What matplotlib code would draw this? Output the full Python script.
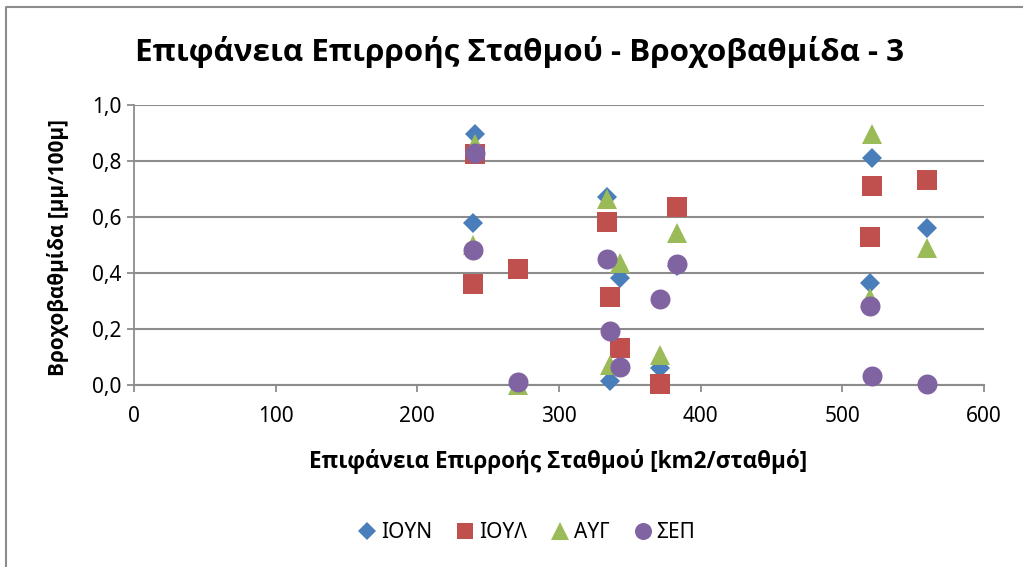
import matplotlib
matplotlib.use("Agg")
import matplotlib.pyplot as plt
from matplotlib.lines import Line2D

# Station catchment area (km2/station)
area_jun = [241, 239, 271, 334, 336, 343, 371, 383, 521, 519.5, 560]
area_jul = [241, 239, 271, 334, 336, 343, 371, 383, 521, 519.5, 560]
area_aug = [241, 239, 271, 334, 336, 343, 371, 383, 521, 519.5, 560]
area_sep = [241, 239, 271, 334, 336, 343, 371, 383, 521, 519.5, 560]

# Rain gradient [mm/100m] per month
grad_jun = [0.895, 0.58, 0.0, 0.672, 0.015, 0.381, 0.06, 0.425, 0.812, 0.363, 0.562]
grad_jul = [0.825, 0.36, 0.413, 0.583, 0.315, 0.131, 0.002, 0.637, 0.712, 0.53, 0.732]
grad_aug = [0.86, 0.50, 0.0, 0.665, 0.071, 0.435, 0.107, 0.542, 0.896, 0.31, 0.488]
grad_sep = [0.83, 0.482, 0.012, 0.449, 0.193, 0.065, 0.306, 0.431, 0.033, 0.283, 0.002]

series_names = ["ΙΟΥΝ", "ΙΟΥΛ", "ΑΥΓ", "ΣΕΠ"]
x_ticks = [0, 100, 200, 300, 400, 500, 600]
y_ticks = [0.0, 0.2, 0.4, 0.6, 0.8, 1.0]

title_text = "Επιφάνεια Επιρροής Σταθμού - Βροχοβαθμίδα - 3"
xlabel_text = "Επιφάνεια Επιρροής Σταθμού [km2/σταθμό]"
ylabel_text = "Βροχοβαθμίδα [μμ/100μ]"

plt.rcParams["font.family"] = ["Noto Sans", "DejaVu Sans"]
BOLD_FAMILY = ["Open Sans", "DejaVu Sans"]

W, H = 1023, 567
DPI = 100
fig = plt.figure(figsize=(W / DPI, H / DPI), dpi=DPI)
fig.patch.set_facecolor("white")

# plot area in pixels
px_left, px_right, px_top, px_bottom = 134, 984, 105, 385
ax = fig.add_axes([px_left / W, 1 - px_bottom / H,
                   (px_right - px_left) / W, (px_bottom - px_top) / H])

colors = ["#4A7EBB", "#C0504D", "#9BBB59", "#8064A2"]
markers = ["D", "s", "^", "o"]
msizes = [10.2, 14.0, 15.0, 14.4]
xs = [area_jun, area_jul, area_aug, area_sep]
ys = [grad_jun, grad_jul, grad_aug, grad_sep]

for x, y, c, m, s, name in zip(xs, ys, colors, markers, msizes, series_names):
    ax.plot(x, y, linestyle="none", marker=m, markersize=s, color=c,
            markeredgewidth=0, label=name, clip_on=False, zorder=3)

ax.set_xlim(0, 600)
ax.set_ylim(0, 1.0)
ax.set_xticks(x_ticks)
ax.set_yticks(y_ticks)
ax.set_yticklabels([f"{v:.1f}".replace(".", ",") for v in y_ticks])
ax.set_xticklabels([str(v) for v in x_ticks])

grid_color = "#8C8C8C"
ax.grid(axis="y", color=grid_color, linewidth=1.5, zorder=0)
ax.set_axisbelow(True)
for side in ["top", "right"]:
    ax.spines[side].set_visible(False)
ax.spines["left"].set_color(grid_color)
ax.spines["left"].set_linewidth(1.3)
ax.spines["bottom"].set_color(grid_color)
ax.spines["bottom"].set_linewidth(1.5)
ax.tick_params(axis="both", direction="out", length=5, width=1.3,
               color=grid_color, labelsize=15, labelcolor="#000000")
ax.tick_params(axis="y", pad=4)
ax.tick_params(axis="x", pad=10)

# Texts, sized to fixed pixel widths
renderer = fig.canvas.get_renderer()


def fit_text(t, target_px, start_size):
    t.set_fontsize(start_size)
    w = t.get_window_extent(renderer).width
    t.set_fontsize(start_size * target_px / w)


title = fig.text(519.5 / W, 1 - 52 / H, title_text, ha="center", va="center",
                 fontweight="bold", family=BOLD_FAMILY, color="#000000")
fit_text(title, 771, 20)

xl = fig.text(558 / W, 1 - 461 / H, xlabel_text, ha="center", va="center",
              fontweight="bold", family=BOLD_FAMILY)
fit_text(xl, 500, 14)

yl = fig.text(58 / W, 1 - 248 / H, ylabel_text, ha="center", va="center",
              fontweight="bold", family=BOLD_FAMILY, rotation=90)
t_tmp = fig.text(0, 0, ylabel_text, fontweight="bold", family=BOLD_FAMILY)
t_tmp.set_fontsize(14)
wy = t_tmp.get_window_extent(renderer).width
t_tmp.remove()
yl.set_fontsize(14 * 258 / wy)

handles = [Line2D([], [], linestyle="none", marker=m, color=c, markeredgewidth=0,
                  markersize=s * 0.85)
           for c, m, s in zip(colors, markers, msizes)]
fig.legend(handles, series_names, loc="center", ncol=4,
           bbox_to_anchor=(527 / W, 1 - 533 / H), frameon=False, fontsize=15,
           handlelength=0.8, handletextpad=0.25, columnspacing=1.2)

# outer chart border
fig.add_artist(Line2D([6 / W, 6 / W, 1.0], [0.0, 1 - 7 / H, 1 - 7 / H],
                      transform=fig.transFigure, color="#8C8C8C", linewidth=1.5))

fig.savefig("out.png", dpi=DPI, facecolor="white")
